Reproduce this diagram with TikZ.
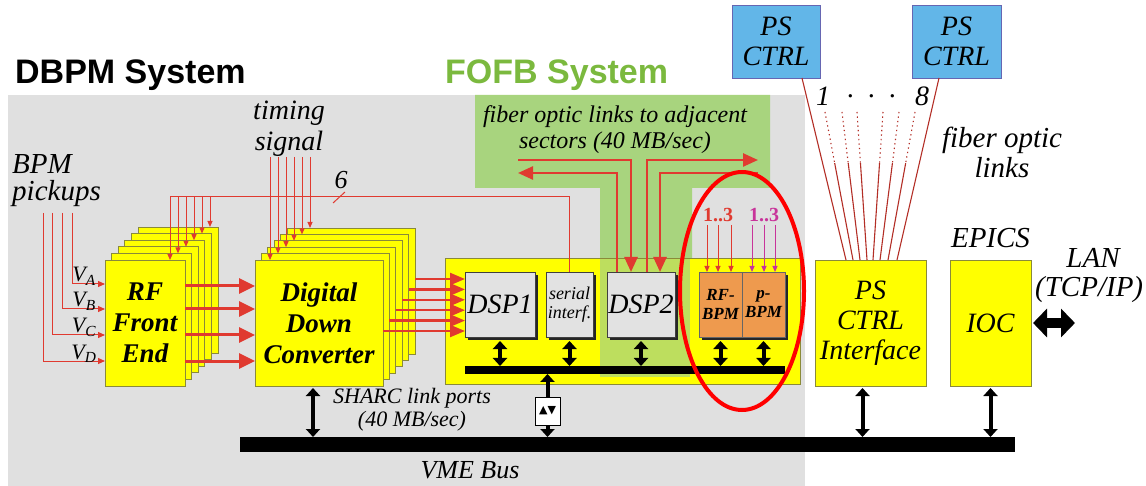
\documentclass[tikz,border=0pt]{standalone}
\usepackage{fontspec}
\setmainfont{Liberation Serif}
\setsansfont{Liberation Sans}
\newfontfamily\symfont{DejaVu Sans}
\usepackage{tikz}
\usetikzlibrary{positioning, arrows.meta, calc, shadows}
\definecolor{panel}{HTML}{E0E0E0}
\definecolor{fofb}{HTML}{A8D47E}
\definecolor{fofbtxt}{HTML}{7BB93E}
\definecolor{card}{HTML}{FFFF00}
\definecolor{cardline}{HTML}{8A8A3A}
\definecolor{sig}{HTML}{E03A30}
\definecolor{chip}{HTML}{E2E2E2}
\definecolor{bpmor}{HTML}{EE9A4E}
\definecolor{psblue}{HTML}{62B6E8}
\definecolor{pink}{HTML}{C8349A}
\newcommand{\fsz}[2]{\fontsize{#1bp}{#2bp}\selectfont}

\begin{document}
\begin{tikzpicture}[x=1bp, y=-1bp, font=\fsz{28}{30}\itshape,
  card/.style={draw=cardline,fill=card,line width=0.8bp,outer sep=0pt,align=center},
  front/.style={card,minimum height=126bp,font=\fsz{27}{31}\bfseries\itshape},
  chipbox/.style={draw=black!75,fill=chip,line width=0.6bp,outer sep=0pt,inner sep=1bp,
                  minimum height=65bp,align=center,
                  drop shadow={shadow xshift=3bp,shadow yshift=-3bp,fill=black!85,opacity=1}},
  bpmbox/.style={chipbox,fill=bpmor,draw=black!60,minimum width=43bp,
                 font=\fsz{17}{19}\bfseries\itshape},
  psbox/.style={draw=black!50!blue!60,fill=psblue,line width=0.8bp,minimum width=88bp,
                minimum height=73bp,align=center,outer sep=0pt},
  bar/.style={fill=black,inner sep=0pt,outer sep=0pt},
  lbl/.style={inner sep=1bp,align=center},
  sigline/.style={draw=sig,line width=1bp},
  sigtip/.style={sigline,-{Triangle[length=6bp,width=5bp]}},
  fat/.style={draw=sig,line width=3bp,-{Triangle[length=16bp,width=15bp]}},
  midred/.style={draw=sig,line width=2.4bp,-{Triangle[length=15bp,width=12bp]}},
  fib/.style={draw=sig,line width=2.5bp},
  fo/.style={draw=sig!80!black,line width=1.1bp},
  dbl/.style={line width=4bp,{Triangle[length=8bp,width=14bp]}-{Triangle[length=8bp,width=14bp]}},
  one/.style={line width=4bp,-{Triangle[length=8bp,width=14bp]}}]

  \useasboundingbox[fill=white] (0,0) rectangle (1146,486);
  % system areas
  \fill[panel] (8,95) rectangle (805,486);
  \fill[fofb] (475,95) -- (770,95) -- (770,188) -- (692,188) -- (692,258)
    -- (600,258) -- (600,188) -- (475,188) -- cycle;
  \node[font=\fsz{34}{36}\sffamily\bfseries\upshape,anchor=base west,inner sep=0] (dbpm) at (15,84) {DBPM System};
  \node[font=\fsz{34}{36}\sffamily\bfseries\upshape,text=fofbtxt,anchor=base west,inner sep=0] (fofbt) at (445,84) {FOFB System};

  % RF front end and digital down converter cards
  \foreach \k in {5,...,1}
    \draw[card] (105+6.6*\k,260-6.6*\k) rectangle ++(80,126);
  \node[front,minimum width=80bp] (rf) at (145,323) {RF\\Front\\End};
  \foreach \k in {5,...,1}
    \draw[card] (255+6.4*\k,260-6.4*\k) rectangle ++(128,126);
  \node[front,minimum width=128bp] (ddc) at (319,323) {Digital\\Down\\Converter};

  % DSP board
  \node[card,minimum width=355bp,minimum height=126bp] (board) at (622.5,321) {};
  \fill[fofb,opacity=.75] (600,259) rectangle (690,377);
  \node[chipbox,minimum width=70bp] (dsp1) at (500,304.5) {DSP1};
  \node[chipbox,minimum width=47bp,right=11bp of dsp1,font=\fsz{18}{19}\itshape] (serial) {serial\\interf.};
  \node[chipbox,minimum width=68bp,right=14bp of serial] (dsp2) {DSP2};
  \node[bpmbox,right=24bp of dsp2] (rfbpm) {RF-\\BPM};
  \node[bpmbox,right=0bp of rfbpm] (pbpm) {p-\\BPM};
  \node[bar,minimum width=320bp,minimum height=8bp] (ibus) at (625,370) {};
  \foreach \n in {dsp1,serial,dsp2,rfbpm,pbpm}
    \draw[dbl] ([yshift=-4bp]\n.south) -- (\n.south |- ibus.north);

  % inputs
  \node[lbl,anchor=west,align=left,font=\fsz{29}{27}\itshape] (pick) at (11,181) {BPM\\pickups};
  \foreach \d/\x/\s in {39bp/72/A,14bp/62/B,-12bp/52/C,-38bp/43/D} {
    \draw[sigline,-{Triangle[length=7bp,width=6bp]}] (\x,213) |- ([yshift=\d]rf.west);
    \node[lbl,anchor=base,font=\fsz{22}{22}\itshape] (v\s) at ([xshift=-21bp,yshift=\d+2bp]rf.west) {V\textsubscript{\s}};
  }
  \foreach \d in {37bp,14bp,-12bp,-38bp}
    \draw[fat] ([yshift=\d]rf.east) -- ([yshift=\d]ddc.west);
  \foreach \i in {0,...,5} {
    \coordinate (o\i) at (415-6.4*\i,279+10.4*\i);
    \draw[midred] (o\i) -- (o\i -| dsp1.west);
  }

  % timing
  \node[lbl,font=\fsz{28}{31}\itshape] (timing) at (289,129) {timing\\signal};
  \coordinate (tcorner) at (170,197);
  \draw[sigline] (serial.north) |- (tcorner);
  \foreach \k in {0,...,5}
    \draw[sigtip] (170+8*\k,197) -- (170+8*\k,260-6.6*\k);
  \foreach \k in {0,...,5}
    \draw[sigtip] (270+8*\k,157) -- (270+8*\k,260-6.4*\k);
  \draw[sigline] (333,203) -- (345,192);
  \node[lbl,font=\fsz{26}{26}\itshape] (six) at (341,180) {6};

  % links to adjacent sectors
  \node[lbl,font=\fsz{24}{26}\itshape] (adj) at (615,130) {fiber optic links to adjacent\\sectors (40 MB/sec)};
  \coordinate (fl1) at (518,160);
  \coordinate (fl2) at (518,173);
  \coordinate (fr1) at (758,160);
  \coordinate (fr2) at (758,173);
  \draw[fib,-{Triangle[length=15bp,width=13bp]}] (fl1) -| ([xshift=-10bp]dsp2.north);
  \draw[fib,-{Triangle[length=15bp,width=13bp]}] ([xshift=-24bp]dsp2.north) |- (fl2);
  \draw[fib,-{Triangle[length=15bp,width=13bp]}] ([xshift=6bp]dsp2.north) |- (fr1);
  \draw[fib,-{Triangle[length=15bp,width=13bp]}] (fr2) -| ([xshift=19bp]dsp2.north);

  \node[lbl,text=sig,font=\fsz{20}{20}\bfseries\upshape] (rfn) at (718,215) {1..3};
  \node[lbl,text=pink,font=\fsz{20}{20}\bfseries\upshape] (pn) at (764,215) {1..3};
  \foreach \d in {-11bp,0bp,13bp}
    \draw[sigtip] ([xshift=\d,yshift=-2bp]rfn.south) -- ([xshift=\d]rfn.south |- rfbpm.north);
  \foreach \d in {-12bp,0bp,11bp}
    \draw[sigtip,draw=pink] ([xshift=\d,yshift=-2bp]pn.south) -- ([xshift=\d]pn.south |- pbpm.north);

  % VME bus
  \node[bar,minimum width=775bp,minimum height=15bp] (vme) at (627.5,444.5) {};
  \node[lbl,font=\fsz{26}{26}\itshape] (vmelbl) at (470,470) {VME Bus};
  \draw[dbl] ([xshift=-6bp,yshift=-2bp]ddc.south) -- ([xshift=-6bp]ddc.south |- vme.north);
  \node[lbl,font=\fsz{22}{23}\itshape] (sharc) at (412,410) {SHARC link ports\\(40 MB/sec)};
  \node[draw=black,fill=white,line width=0.8bp,minimum width=25bp,minimum height=28bp,inner sep=0pt,
        font=\symfont\fsz{11}{11}] (buf) at (547.5,411) {▲▼};
  \draw[one] (buf.north) -- (buf.north |- ibus.south);
  \draw[one] (buf.south) -- (buf.south |- vme.north);

  % power supply control
  \node[card,minimum width=111bp,minimum height=126bp] (psif) at (870.5,323) {PS\\CTRL\\Interface};
  \node[card,minimum width=81bp,minimum height=126bp,right=24bp of psif] (ioc) {IOC};
  \node[lbl,above=11bp of ioc,font=\fsz{29}{29}\itshape] (epics) {EPICS};
  \draw[dbl] ([xshift=-8bp,yshift=-2bp]psif.south) -- ([xshift=-8bp]psif.south |- vme.north);
  \draw[dbl] ([yshift=-2bp]ioc.south) -- (ioc.south |- vme.north);
  \coordinate (lan) at (1075,323);
  \draw[line width=10bp,{Triangle[length=14bp,width=28bp]}-{Triangle[length=14bp,width=28bp]}]
    ([xshift=2bp]ioc.east) -- (lan);
  \node[lbl,font=\fsz{29}{29}\itshape] (lanlbl) at (1093,258) {LAN};
  \node[lbl,anchor=west,font=\fsz{29}{29}\itshape] (tcp) at (1034,290) {(TCP/IP)};

  \node[psbox] (ps1) at (776,41.5) {PS\\CTRL};
  \node[psbox,minimum width=89bp] (ps8) at (956.5,41.5) {PS\\CTRL};
  \draw[fo] ([xshift=26bp]ps1.south) -- ([xshift=-24.5bp]psif.north);
  \draw[fo] ([xshift=-17.5bp]ps8.south) -- ([xshift=26.5bp]psif.north);
  \foreach \a/\b in {825/-17.5bp,842/-10.5bp,857/-3.5bp,883/2.5bp,899/9.5bp,915/17.5bp} {
    \coordinate (fa) at (\a,112);
    \coordinate (fb) at ([xshift=\b]psif.north);
    \draw[fo,dash pattern=on 1.3bp off 3.2bp] (fa) -- ($(fa)!0.345!(fb)$);
    \draw[fo] ($(fa)!0.345!(fb)$) -- (fb);
  }
  \node[lbl,font=\fsz{28}{28}\itshape] (one) at (823,96) {1};
  \node[lbl,font=\fsz{28}{28}\itshape] (dots) at (872,96) {.\,\,\,.\,\,\,.};
  \node[lbl,font=\fsz{28}{28}\itshape] (eight) at (922,96) {8};
  \node[lbl,font=\fsz{29}{30}\itshape] (folinks) at (1002,152) {fiber optic\\links};

  % highlight
  \draw[red,line width=4bp] (742,291) ellipse [x radius=62bp,y radius=119bp];
\end{tikzpicture}
\end{document}
